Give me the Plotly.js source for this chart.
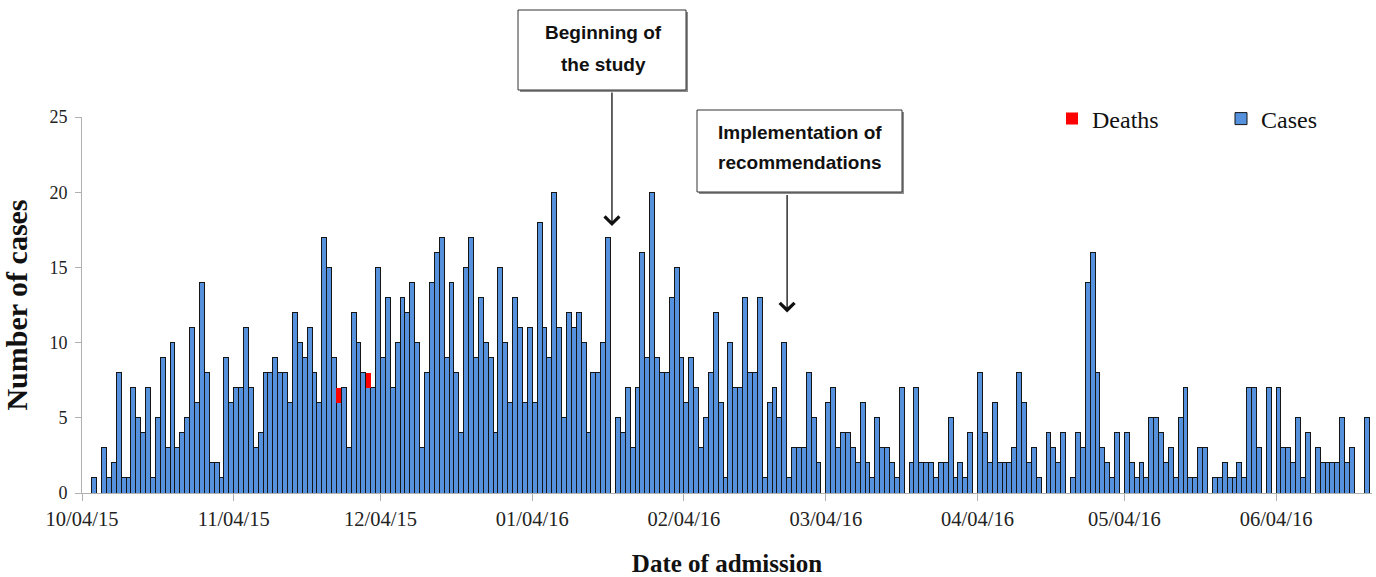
<!DOCTYPE html>
<html>
<head>
<meta charset="utf-8">
<script src="https://cdn.plot.ly/plotly-3.0.1.min.js"></script>
<style>html,body{margin:0;padding:0;background:#fff;}#chart{width:1376px;height:577px;}</style>
</head>
<body>
<div id="chart"></div>
<script>
// ---- data ----
const startDate = '2015-10-04';   // first day on the axis
// daily number of cases (blue part of each bar), one value per day from startDate
const cases = [
 0,0,1,0,3,1,2,8,1,1, 7,5,4,7,1,5,9,3,10,3, 4,5,11,6,14,8,2,2,1,9, 6,7,7,11,7,3,4,8,8,9,
 8,8,6,12,10,9,11,8,6,17, 15,9,6,7,3,12,10,8,7,7, 15,9,13,7,10,13,12,14,10,3, 8,14,16,17,9,14,8,4,15,17,
 9,13,10,9,4,15,10,6,13,11, 6,11,6,18,11,9,20,11,5,12, 11,12,10,4,8,8,10,17,0,5, 4,7,3,7,16,9,20,9,8,8,
 13,15,9,6,9,7,3,5,8,12, 6,1,10,7,7,13,8,8,13,1, 6,7,5,10,1,3,3,3,8,5, 2,0,6,7,3,4,4,3,2,6,
 2,1,5,3,3,2,1,7,0,2, 7,2,2,2,1,2,2,5,1,2, 1,4,0,8,4,2,6,2,2,2, 3,8,6,2,3,1,0,4,3,2,
 4,0,1,4,3,14,16,8,3,2, 1,4,0,4,2,1,2,1,5,5, 4,2,3,1,5,7,1,1,3,3, 0,1,1,2,1,1,2,1,7,7,
 3,0,7,0,7,3,3,2,5,1, 4,0,3,2,2,2,2,5,2,3, 0,0,5
];
const deathDates = ['2015-11-25', '2015-12-01'];
const deaths = [1, 1];
const tickDates = ['2015-10-04','2015-11-04','2015-12-04','2016-01-04','2016-02-04','2016-03-04','2016-04-04','2016-05-04','2016-06-04'];
const tickLabels = ['10/04/15','11/04/15','12/04/15','01/04/16','02/04/16','03/04/16','04/04/16','05/04/16','06/04/16'];
const note1Lines = ['Beginning of', 'the study'];
const note2Lines = ['Implementation of', 'recommendations'];
const arrow1 = {date:'2016-01-20 07:00', value:17.75};
const arrow2 = {date:'2016-02-25 02:00', value:12.0};

// ---- build dates (bar for each day spans that day) ----
const DAY = 86400000;
const t0 = Date.parse(startDate + 'T00:00:00Z');
function iso(ms){ return new Date(ms).toISOString().slice(0,19).replace('T',' '); }
const caseX = cases.map((_, i) => iso(t0 + i*DAY + DAY/2));
const deathX = deathDates.map(d => iso(Date.parse(d + 'T00:00:00Z') + DAY/2));

// pixel helpers for annotation placement
const W = 1376, H = 577;
const L = 82, R = 1372, T = 117, B = 493;
const px = X => (X - L) / (R - L);
const py = Y => (B - Y) / (B - T);

const serif = 'Liberation Serif, Times New Roman, serif';
const sans = 'Liberation Sans, Arial, sans-serif';

const traces = [
  {type:'bar', name:'Cases', x:caseX, y:cases, width:DAY, legend:'legend2',
   marker:{color:'#5591dc', line:{color:'#151515', width:1}}, hoverinfo:'x+y'},
  {type:'bar', name:'Deaths', x:deathX, y:deaths, width:DAY, legend:'legend',
   marker:{color:'#ff0000', line:{color:'#ff0000', width:0}}, hoverinfo:'x+y'}
];

function box(x0, y0, x1, y1){
  return [
    {type:'rect', xref:'paper', yref:'paper', x0:px(x0+2), x1:px(x1+2), y0:py(y1+2), y1:py(y0+2),
     line:{width:0}, fillcolor:'#8c8c8c', layer:'above'},
    {type:'rect', xref:'paper', yref:'paper', x0:px(x0), x1:px(x1), y0:py(y1), y1:py(y0),
     line:{width:1, color:'#333'}, fillcolor:'#ffffff', layer:'above'}
  ];
}
function textLine(txt, X, Y){
  return {xref:'paper', yref:'paper', x:px(X), y:py(Y), xanchor:'center', yanchor:'middle',
    text:txt, showarrow:false, font:{family:sans, size:19, color:'#111', weight:'bold'}};
}
function legendAt(X){
  return {xref:'paper', yref:'paper', x:px(X), xanchor:'left', y:py(119), yanchor:'middle',
    font:{family:serif, size:24, color:'#111'}, bgcolor:'rgba(0,0,0,0)', borderwidth:0};
}

const layout = {
  width:W, height:H,
  margin:{l:L, r:W-R, t:T, b:H-B, pad:0},
  paper_bgcolor:'#fff', plot_bgcolor:'#fff',
  barmode:'stack', bargap:0,
  font:{family:serif, size:18, color:'#222'},
  xaxis:{type:'date', range:[iso(t0), iso(t0 + 263.6*DAY)],
    tickmode:'array', tickvals:tickDates, ticktext:tickLabels,
    ticks:'outside', ticklen:7, tickcolor:'#b0b0b0', tickwidth:1,
    showline:true, linecolor:'#b0b0b0', linewidth:1, showgrid:false, zeroline:false,
    tickfont:{family:serif, size:20.5, color:'#222'},
    title:{text:'Date of admission\u00a0\u00a0\u00a0\u00a0', font:{family:serif, size:25, color:'#111', weight:'bold'}, standoff:25}},
  yaxis:{range:[0,25], dtick:5, tick0:0,
    ticks:'outside', ticklen:6, tickcolor:'#b0b0b0', tickwidth:1, ticklabelstandoff:4,
    showline:true, linecolor:'#b0b0b0', linewidth:1, showgrid:false, zeroline:false,
    tickfont:{family:serif, size:18, color:'#222'},
    title:{text:'Number of cases', font:{family:serif, size:30, color:'#111', weight:'bold'}, standoff:12}},
  showlegend:true,
  legend:legendAt(1052),
  legend2:legendAt(1221),
  shapes:[].concat(box(518, 10, 686, 90), box(697, 110, 902, 192)),
  annotations:[
    textLine(note1Lines[0], 603, 32), textLine(note1Lines[1], 603, 65),
    textLine(note2Lines[0], 800, 132), textLine(note2Lines[1], 800, 162),
    {xref:'x', yref:'y', x:arrow1.date, y:arrow1.value, text:'', showarrow:true, axref:'pixel', ayref:'pixel', ax:0, ay:-(226-91),
     arrowhead:4, arrowsize:2.2, arrowwidth:1.3, arrowcolor:'#111', standoff:0, startstandoff:0},
    {xref:'x', yref:'y', x:arrow2.date, y:arrow2.value, text:'', showarrow:true, axref:'pixel', ayref:'pixel', ax:0, ay:-(312-193),
     arrowhead:4, arrowsize:2.2, arrowwidth:1.3, arrowcolor:'#111', standoff:0, startstandoff:0}
  ]
};

Plotly.newPlot('chart', traces, layout, {displayModeBar:false, staticPlot:true});
</script>
</body>
</html>
